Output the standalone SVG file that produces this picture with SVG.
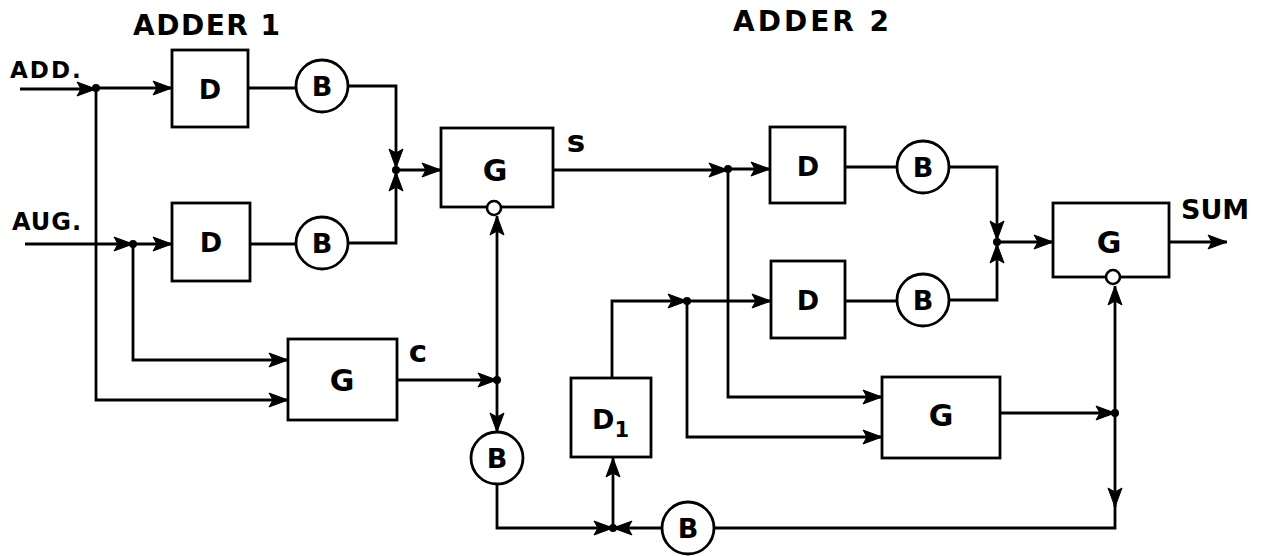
<svg xmlns="http://www.w3.org/2000/svg" width="1264" height="556" viewBox="0 0 1264 556">
<style>
.ln{fill:none;stroke:#000;stroke-width:2.8;stroke-linejoin:miter}
.ar{marker-end:url(#ah)}
.box{fill:#fff;stroke:#000;stroke-width:2.8}
.inh{fill:#fff;stroke:#000;stroke-width:2.6}
.dot{fill:#000}
.t{font-family:"DejaVu Sans","Liberation Sans",sans-serif;font-weight:bold;fill:#000}
.lbl{font-size:27px;text-anchor:middle}
.g{font-size:30px;text-anchor:middle}
</style>
<defs>
<marker id="ah" markerUnits="userSpaceOnUse" markerWidth="21" markerHeight="16" viewBox="-20 -8 21 16" refX="0" refY="0" orient="auto">
<path d="M0,0 L-19,-7 L-15,0 L-19,7 Z" fill="#000" stroke="#000" stroke-width="1" stroke-linejoin="round"/>
</marker>
</defs>
<rect width="1264" height="556" fill="#fff"/>

<g id="titles">
<text class="t" x="133" y="35" font-size="28" letter-spacing="1.5">ADDER 1</text>
<text class="t" x="733" y="31" font-size="28" letter-spacing="3">ADDER 2</text>
<text class="t" x="10" y="78" font-size="23" letter-spacing="2">ADD.</text>
<text class="t" x="12" y="230" font-size="24" letter-spacing="1">AUG.</text>
<text class="t" x="576" y="152" font-size="31" text-anchor="middle">s</text>
<text class="t" x="418" y="362" font-size="31" text-anchor="middle">c</text>
<text class="t" x="1181" y="219" font-size="27">SUM</text>
</g>

<g id="connectors">
<path class="ln ar" d="M20 89 H96"/>
<path class="ln ar" d="M96 88 H172"/>
<path class="ln" d="M248 88 H296"/>
<path class="ln ar" d="M348 86 H396 V168"/>
<path class="ln ar" d="M25 244 H133"/>
<path class="ln ar" d="M133 244 H172"/>
<path class="ln" d="M250 244 H296"/>
<path class="ln ar" d="M348 243 H396 V172"/>
<path class="ln ar" d="M396 170 H441"/>
<path class="ln ar" d="M96 88 V400 H288"/>
<path class="ln ar" d="M133 244 V360 H288"/>
<path class="ln ar" d="M397 380 H497"/>
<path class="ln ar" d="M497 380 V216"/>
<path class="ln ar" d="M497 380 V432"/>
<path class="ln ar" d="M497 484 V528 H613"/>
<path class="ln ar" d="M662 528 H613"/>
<path class="ln ar" d="M613 528 V458"/>
<path class="ln ar" d="M612 378 V301 H687"/>
<path class="ln ar" d="M687 301 H771"/>
<path class="ln" d="M845 301 H897"/>
<path class="ln ar" d="M949 300 H997 V244"/>
<path class="ln ar" d="M687 301 V437 H882"/>
<path class="ln ar" d="M553 170 H728"/>
<path class="ln ar" d="M728 169 H770"/>
<path class="ln" d="M845 167 H897"/>
<path class="ln ar" d="M949 167 H997 V240"/>
<path class="ln ar" d="M997 242 H1053"/>
<path class="ln ar" d="M728 169 V397 H882"/>
<path class="ln ar" d="M1000 413 H1115"/>
<path class="ln ar" d="M1115 413 V286"/>
<path class="ln ar" d="M1115 413 V507"/>
<path class="ln" d="M1115 503 V528 H714"/>
<path class="ln ar" d="M1169 242 H1227"/>
<circle class="dot" cx="96" cy="88" r="4"/>
<circle class="dot" cx="133" cy="244" r="4"/>
<circle class="dot" cx="396" cy="170" r="4"/>
<circle class="dot" cx="497" cy="380" r="4"/>
<circle class="dot" cx="613" cy="528" r="4"/>
<circle class="dot" cx="687" cy="301" r="4"/>
<circle class="dot" cx="728" cy="169" r="4"/>
<circle class="dot" cx="997" cy="242" r="4"/>
<circle class="dot" cx="1115" cy="413" r="4"/>
</g>

<g id="D-add">
<rect class="box" x="172" y="50" width="76" height="77"/>
<text class="t lbl" x="210" y="99">D</text>
</g>
<g id="B-add">
<circle class="box" cx="322" cy="86" r="26"/>
<text class="t lbl" x="322" y="96">B</text>
</g>
<g id="D-aug">
<rect class="box" x="172" y="203" width="78" height="78"/>
<text class="t lbl" x="211" y="252">D</text>
</g>
<g id="B-aug">
<circle class="box" cx="322" cy="243" r="26"/>
<text class="t lbl" x="322" y="253">B</text>
</g>
<g id="G-sum1">
<rect class="box" x="441" y="128" width="112" height="79"/>
<text class="t g" x="495" y="181">G</text>
<circle class="inh" cx="494" cy="208" r="7"/>
</g>
<g id="G-carry1">
<rect class="box" x="288" y="339" width="109" height="81"/>
<text class="t g" x="342" y="391">G</text>
</g>
<g id="B-carry">
<circle class="box" cx="497" cy="458" r="26"/>
<text class="t lbl" x="497" y="468">B</text>
</g>
<g id="D1">
<rect class="box" x="571" y="378" width="80" height="79"/>
<text class="t" x="592" y="429" font-size="27">D<tspan font-size="21" dy="8">1</tspan></text>
</g>
<g id="D-s">
<rect class="box" x="770" y="127" width="75" height="76"/>
<text class="t lbl" x="808" y="176">D</text>
</g>
<g id="B-s">
<circle class="box" cx="923" cy="167" r="26"/>
<text class="t lbl" x="923" y="177">B</text>
</g>
<g id="D-c">
<rect class="box" x="771" y="261" width="74" height="77"/>
<text class="t lbl" x="808" y="310">D</text>
</g>
<g id="B-c">
<circle class="box" cx="923" cy="300" r="26"/>
<text class="t lbl" x="923" y="310">B</text>
</g>
<g id="G-sum2">
<rect class="box" x="1053" y="203" width="116" height="74"/>
<text class="t g" x="1109" y="253">G</text>
<circle class="inh" cx="1113" cy="277" r="7"/>
</g>
<g id="G-carry2">
<rect class="box" x="882" y="377" width="118" height="81"/>
<text class="t g" x="941" y="426">G</text>
</g>
<g id="B-loop">
<circle class="box" cx="688" cy="528" r="26"/>
<text class="t lbl" x="688" y="538">B</text>
</g>
</svg>
